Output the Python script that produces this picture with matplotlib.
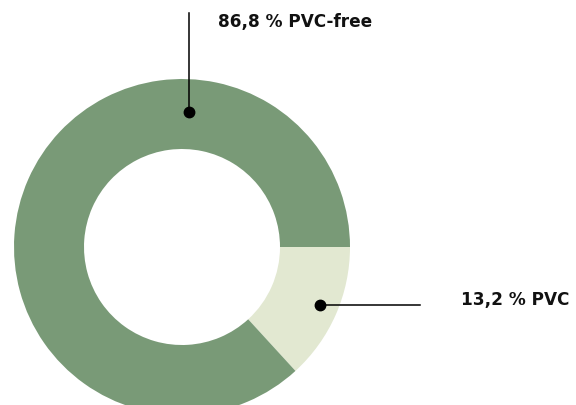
import numpy as np
import matplotlib.pyplot as plt

# data
labels = ['13,2 % PVC', '86,8 % PVC-free']
shares = [13.2, 86.8]
colors = ['#e2e8d1', '#799a77']

W, H = 576, 406
fig = plt.figure(figsize=(W / 100, H / 100), dpi=100)
ax = fig.add_axes([0, 0, 1, 1])

cx, cy = 182, H - 248
R, ring = 168, 70
ax.pie(shares, colors=colors, startangle=0, counterclock=False,
       radius=R, center=(cx, cy), wedgeprops=dict(width=ring, linewidth=0))

ax.set_xlim(0, W)
ax.set_ylim(0, H)
ax.set_aspect('equal')
ax.axis('off')

font = dict(family=['DejaVu Sans'], fontsize=12.2, fontweight='bold', color='#111111')

# PVC callout (horizontal line to the right)
ang = np.deg2rad(-shares[0] / 100 * 360 / 2 + 1.0)
px, py = cx + 150 * np.cos(ang), cy + 150 * np.sin(ang)
ax.plot([px, 420], [py, py], color='black', lw=1.1)
ax.plot(px, py, 'o', color='black', ms=7.5)
ax.text(461, py + 6, labels[0], ha='left', va='center', **font)

# PVC-free callout (vertical line up)
qx, qy = 189, H - 113
ax.plot([qx, qx], [qy, H - 14], color='black', lw=1.1)
ax.plot(qx, qy, 'o', color='black', ms=7.5)
ax.text(218, H - 22, labels[1], ha='left', va='center', **font)

fig.savefig('out.png', dpi=100)
